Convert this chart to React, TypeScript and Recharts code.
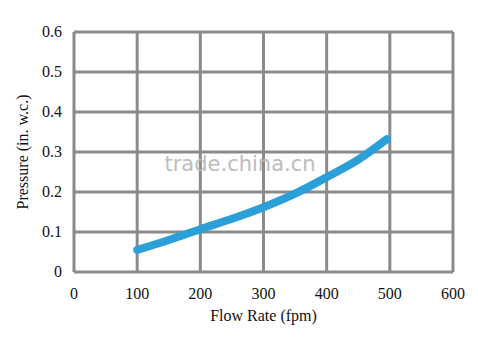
import React from "react";
import {
  LineChart,
  Line,
  XAxis,
  YAxis,
  CartesianGrid,
} from "recharts";

const flowRate = [100, 150, 200, 250, 300, 350, 400, 450, 495];
const pressure = [0.055, 0.08, 0.107, 0.133, 0.162, 0.196, 0.237, 0.281, 0.332];
const xTicks = [0, 100, 200, 300, 400, 500, 600];
const yTicks = [0, 0.1, 0.2, 0.3, 0.4, 0.5, 0.6];

const data = flowRate.map((x, i) => ({ x, y: pressure[i] }));

const FONT = "'Liberation Serif', 'Times New Roman', serif";

// custom ticks so the serif font actually sticks
const XTick = (props: any) => (
  <text x={props.x} y={props.y + 12} textAnchor="middle" fill="#111" fontSize={16} fontFamily={FONT}>
    {props.payload.value}
  </text>
);

const YTick = (props: any) => (
  <text x={props.x} y={props.y + 5} textAnchor="end" fill="#111" fontSize={16} fontFamily={FONT}>
    {props.payload.value}
  </text>
);

export default function App() {
  return (
    <div
      style={{
        position: "absolute",
        left: 0,
        top: 0,
        width: 478,
        height: 340,
        background: "#fff",
      }}
    >
      <LineChart
        width={478}
        height={340}
        data={data}
        margin={{ top: 32, right: 25, bottom: 0, left: 0 }}
      >
        <CartesianGrid stroke="#8a8a8a" strokeWidth={3} />
        <XAxis
          dataKey="x"
          type="number"
          domain={[0, 600]}
          ticks={xTicks}
          height={68}
          axisLine={false}
          tickLine={false}
          tickMargin={9}
          tick={<XTick />}
          label={{
            value: "Flow Rate (fpm)",
            position: "insideBottom",
            offset: 19,
            style: { fill: "#111", fontSize: 16, fontFamily: FONT },
          }}
        />
        <YAxis
          type="number"
          domain={[0, 0.6]}
          ticks={yTicks}
          width={74}
          axisLine={false}
          tickLine={false}
          tickMargin={6}
          tick={<YTick />}
          label={{
            value: "Pressure (in. w.c.)",
            angle: -90,
            position: "insideLeft",
            offset: 22,
            style: { textAnchor: "middle", fill: "#111", fontSize: 16, fontFamily: FONT },
          }}
        />
        <Line
          dataKey="y"
          type="monotone"
          stroke="#2b9fd8"
          strokeWidth={8}
          strokeLinecap="round"
          dot={false}
          isAnimationActive={false}
        />
        <text
          x={240}
          y={171}
          textAnchor="middle"
          fill="#bdbdbd"
          fontSize={21}
          fontFamily="'DejaVu Sans', sans-serif"
        >
          trade.china.cn
        </text>
      </LineChart>
    </div>
  );
}
